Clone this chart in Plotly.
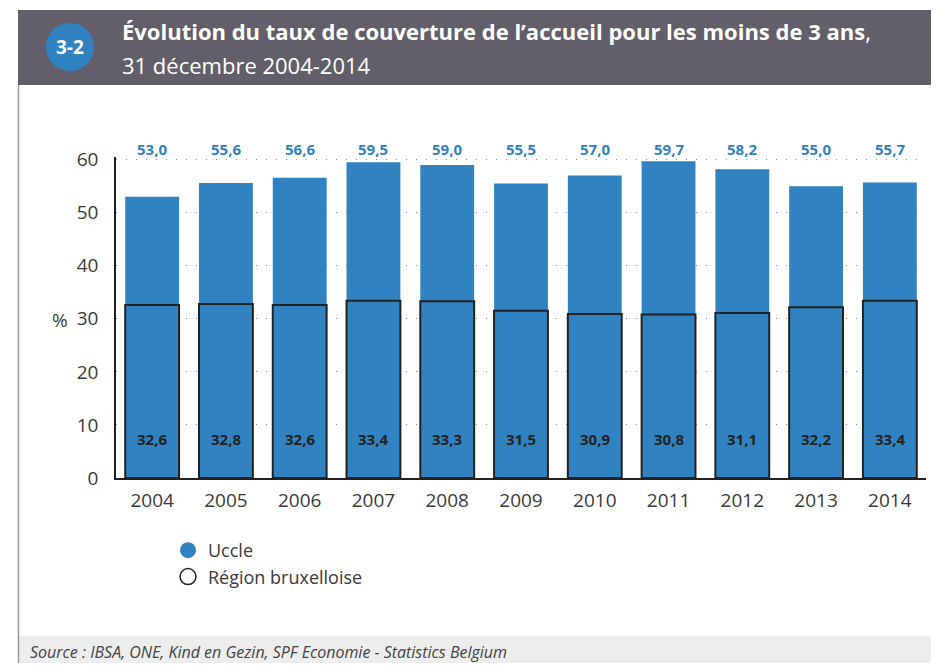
import plotly.graph_objects as go

# data
years = ["2004", "2005", "2006", "2007", "2008", "2009", "2010", "2011", "2012", "2013", "2014"]
uccle = [53.0, 55.6, 56.6, 59.5, 59.0, 55.5, 57.0, 59.7, 58.2, 55.0, 55.7]
region = [32.6, 32.8, 32.6, 33.4, 33.3, 31.5, 30.9, 30.8, 31.1, 32.2, 33.4]

BLUE = "#3182c1"
DARK = "#222222"
HEADER = "#625f6b"
FONT = "Open Sans"

# the page body has an 8px margin, so the figure is drawn 8px in
OFF = 8
W, H = 939 - 2 * OFF, 671 - 2 * OFF
L, R, T, B = 116 - OFF, W - (926 - OFF), 157 - OFF, H - (478 - OFF)


def px_x(px):
    # page pixel -> paper coordinate
    return (px - OFF - L) / (W - L - R)


def px_y(py):
    return (H - B - (py - OFF)) / (H - B - T)


def fr(v):
    return f"{v:.1f}".replace(".", ",")


fig = go.Figure()

fig.add_trace(go.Bar(
    x=years, y=uccle, name="Uccle",
    marker=dict(color=BLUE, line=dict(width=0)),
    showlegend=False, hoverinfo="skip",
))
fig.add_trace(go.Bar(
    x=years, y=region, name="Région bruxelloise",
    marker=dict(color="rgba(0,0,0,0)", line=dict(color=DARK, width=2)),
    showlegend=False, hoverinfo="skip",
))

# legend entries with round symbols
fig.add_trace(go.Scatter(
    x=[None], y=[None], mode="markers", name="Uccle",
    marker=dict(symbol="circle", size=20, color=BLUE, line=dict(width=0)),
))
fig.add_trace(go.Scatter(
    x=[None], y=[None], mode="markers", name="Région bruxelloise",
    marker=dict(symbol="circle", size=20, color="white", line=dict(color=DARK, width=1.5)),
))

annotations = []
for i, (u, r) in enumerate(zip(uccle, region)):
    annotations.append(dict(
        x=i, y=px_y(137), xref="x", yref="paper", text=f"<b>{fr(u)}</b>",
        showarrow=False, font=dict(family=FONT, size=15, color=BLUE),
    ))
    annotations.append(dict(
        x=i, y=px_y(451), xref="x", yref="paper", text=f"<b>{fr(r)}</b>",
        showarrow=False, font=dict(family=FONT, size=15, color=DARK),
    ))

# header texts
annotations.append(dict(
    x=px_x(120), y=px_y(31), xref="paper", yref="paper", xanchor="left", yanchor="middle",
    text="<b>Évolution du taux de couverture de l’accueil pour les moins de 3 ans</b>,",
    showarrow=False, font=dict(family=FONT, size=22, color="white"),
))
annotations.append(dict(
    x=px_x(120), y=px_y(65), xref="paper", yref="paper", xanchor="left", yanchor="middle",
    text="31 décembre 2004-2014",
    showarrow=False, font=dict(family=FONT, size=22, color="white"),
))
annotations.append(dict(
    x=px_x(70), y=px_y(47), xref="paper", yref="paper", xanchor="center", yanchor="middle",
    text="<b>3-2</b>", showarrow=False, font=dict(family=FONT, size=19, color="white"),
))
annotations.append(dict(
    x=px_x(60), y=px_y(320), xref="paper", yref="paper", xanchor="center", yanchor="middle",
    text="%", showarrow=False, font=dict(family=FONT, size=19, color="#3a3a3a"),
))
annotations.append(dict(
    x=px_x(28), y=px_y(652), xref="paper", yref="paper", xanchor="left", yanchor="middle",
    text="<i>Source : IBSA, ONE, Kind en Gezin, SPF Economie - Statistics Belgium</i>",
    showarrow=False, font=dict(family=FONT, size=16, color="#444444"),
))

shapes = [
    # header band
    dict(type="rect", xref="paper", yref="paper", x0=px_x(18), x1=px_x(939), y0=px_y(85), y1=px_y(10),
         fillcolor=HEADER, line=dict(width=0), layer="below"),
    dict(type="circle", xref="paper", yref="paper", x0=px_x(46), x1=px_x(94), y0=px_y(71), y1=px_y(23),
         fillcolor=BLUE, line=dict(width=0)),
    # frame
    dict(type="line", xref="paper", yref="paper", x0=px_x(18.5), x1=px_x(18.5), y0=px_y(85), y1=px_y(671),
         line=dict(color="#9a9a9a", width=1.5)),
    # source band
    dict(type="rect", xref="paper", yref="paper", x0=px_x(19), x1=px_x(939), y0=px_y(671), y1=px_y(636),
         fillcolor="#ecedec", line=dict(width=0), layer="below"),
]

fig.update_layout(
    width=W, height=H,
    margin=dict(l=L, r=R, t=T, b=B),
    paper_bgcolor="white", plot_bgcolor="white",
    barmode="overlay", bargap=0.27,
    font=dict(family=FONT, size=18, color="#3a3a3a"),
    annotations=annotations, shapes=shapes,
    legend=dict(
        x=px_x(168), y=px_y(532), xanchor="left", yanchor="top",
        font=dict(family=FONT, size=18, color="#3a3a3a"),
        itemsizing="trace", tracegroupgap=4, bgcolor="rgba(0,0,0,0)",
    ),
)

fig.update_xaxes(
    type="category", range=[-0.49, 10.49],
    showline=True, linecolor=DARK, linewidth=1.5,
    showgrid=False, ticks="", ticklabelstandoff=4,
    tickfont=dict(size=19, color="#3a3a3a"),
)
fig.update_yaxes(
    range=[0, 60.5], tickvals=[0, 10, 20, 30, 40, 50, 60],
    showline=True, linecolor=DARK, linewidth=1.5,
    showgrid=True, gridcolor="#8a8a8a", griddash="1px,9px", gridwidth=1,
    zeroline=False, ticks="", ticklabelstandoff=12,
    tickfont=dict(size=19, color="#3a3a3a"),
)

fig.write_html("out.html")
